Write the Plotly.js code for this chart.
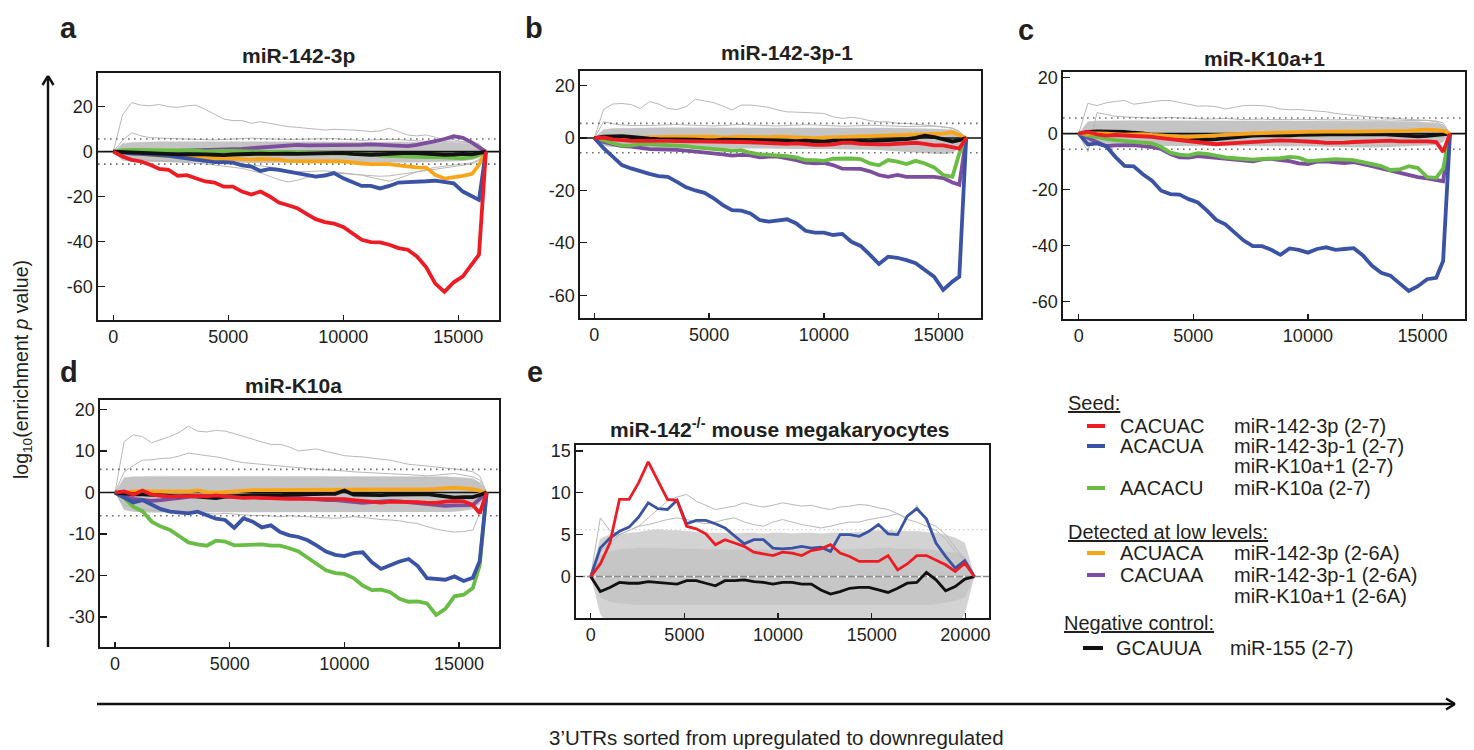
<!DOCTYPE html>
<html><head><meta charset="utf-8">
<script src="https://cdn.plot.ly/plotly-3.0.1.min.js"></script>
<style>html,body{margin:0;padding:0;background:#fff;} #chart{width:1474px;height:750px;}</style>
</head><body><div id="chart"></div>
<script>
// ---------------- DATA ----------------
const X_AD = [0,400,800,1200,1600,2000,2400,2800,3200,3600,4000,4400,4800,5200,5600,6000,6400,6800,7200,7600,8000,8400,8800,9200,9600,10000,10400,10800,11200,11600,12000,12400,12800,13200,13600,14000,14400,14800,15200,15600,15900,16200];
const X_E = [0,512,1024,1536,2048,2560,3072,3584,4096,4608,5120,5632,6144,6656,7168,7680,8192,8704,9216,9728,10240,10752,11264,11776,12288,12800,13312,13824,14336,14848,15360,15872,16384,16896,17408,17920,18432,18944,19456,19968,20480];
const X_TICKS_AD = [0,5000,10000,15000];
const X_TICKS_E = [0,5000,10000,15000,20000];

// panel a: miR-142-3p
const a_red    = [0,-2.2,-3.7,-4.4,-5.9,-7.7,-8.1,-10.8,-10.5,-12.1,-13.3,-13.8,-15.6,-15.6,-17.8,-19.1,-17.8,-20,-22.7,-23.9,-25.2,-27.7,-30.1,-31.4,-32.1,-33.6,-36.3,-39.3,-40.3,-40.4,-41.5,-43,-43.7,-46.7,-51.4,-58.8,-62.5,-58.2,-55.6,-50.4,-45.9,0];
const a_blue   = [0,-0.6,-0.9,-1.0,-1.2,-1.6,-1.9,-2.5,-3.1,-3.7,-4.1,-4.7,-4.7,-4.9,-6.1,-6.7,-8.6,-7.7,-8.1,-8.9,-9.6,-10.5,-11.1,-10.7,-9.6,-11.9,-13.8,-15.3,-15.3,-16.4,-15.3,-13.8,-13.6,-13.6,-13.2,-12.9,-13.5,-14.1,-17.8,-20,-21.5,0];
const a_orange = [0,-0.4,-0.9,-1.2,-1.5,-1.8,-1.9,-2.1,-2.2,-2.7,-3.0,-3.1,-3.3,-3.1,-3.3,-3.6,-3.3,-3.4,-3.6,-4.1,-4.4,-4.3,-4.3,-4.1,-4.3,-4.4,-5.0,-5.3,-5.6,-5.6,-5.6,-6.1,-6.7,-7.0,-7.1,-10.4,-12.0,-11.6,-10.8,-9.9,-5.9,0];
const a_purple = [0,-0.2,-0.3,-0.1,0,0.1,0.1,0.3,0.3,0.4,0.6,0.7,0.7,0.9,1.2,1.5,1.8,2.2,2.8,3.0,3.0,2.8,2.8,2.8,2.7,2.7,2.8,3.0,3.2,3.0,2.4,2.2,2.4,3.0,3.7,4.7,5.6,6.8,6.1,4.0,1.9,0];
const a_green  = [0,0.6,0.7,0.7,0.6,0.3,0.4,0.7,0.6,0.4,0.1,0,0.3,0.3,0.1,-0.1,-0.3,-0.4,-0.3,-0.3,-0.4,-0.4,-0.6,-0.6,-0.6,-0.7,-0.9,-1.0,-1.2,-1.8,-2.0,-2.1,-2.0,-2.2,-2.5,-2.3,-2.6,-3.0,-3.0,-2.5,-1.5,0];
const a_black  = [0,-0.2,-0.3,-0.4,-0.6,-0.8,-1.0,-1.2,-1.1,-1.0,-1.2,-1.4,-1.6,-1.3,-1.1,-1.0,-0.9,-1.0,-0.8,-0.9,-1.0,-0.9,-0.8,-0.6,-0.4,-0.6,-1.0,-1.3,-1.4,-1.2,-0.9,-1.0,-0.6,-0.7,-1.0,-1.2,-1.4,-1.3,-1.0,-1.2,-0.8,0];
const a_bandHi = [0,3.5,4.0,4.2,4.3,4.4,4.4,4.4,4.4,4.3,4.3,4.3,4.3,4.3,4.3,4.3,4.3,4.3,4.3,4.3,4.3,4.3,4.3,4.3,4.3,4.3,4.3,4.3,4.3,4.3,4.3,4.3,4.3,4.3,4.3,4.2,4.2,4.0,3.8,3.5,2.5,0];
const a_bandLo = [0,-4.0,-4.5,-4.6,-4.6,-4.7,-4.7,-4.7,-4.8,-4.8,-4.7,-4.8,-4.9,-5.0,-5.0,-4.9,-5.0,-5.1,-5.0,-5.0,-5.1,-5.0,-5.0,-5.1,-5.0,-5.1,-5.2,-5.2,-5.1,-5.0,-5.0,-5.0,-4.9,-4.9,-4.8,-4.7,-4.6,-4.4,-4.2,-3.8,-2.8,0];
const a_gray1  = [0,16.3,21.8,20.7,20.4,21,20,19.7,20.4,20.7,18.8,16.6,14.5,13.8,13.8,12.6,13.3,12.6,11.9,11.1,10.8,10.4,9.9,9.6,9.9,9.9,9.6,9.3,8.9,9.2,10.4,8.9,7.4,7.0,7.4,6.4,5.2,5.2,4.4,3.7,3.0,0];
const a_gray2  = [0,5,8.4,7,6.2,6,5.8,5.8,5.6,5.5,5.3,5.2,5.4,5.6,5.8,6,5.8,5.6,5.5,5.4,5.5,5.6,5.8,6.0,5.8,5.5,5.2,5.0,5.2,5.4,5.5,5.3,5.0,4.8,4.6,4.5,4.5,4.4,4.3,4.2,3.5,0];
const a_gray3  = [0,-2,-3,-3.5,-4,-4,-4.2,-4.3,-4.5,-4.5,-4.6,-4.8,-5,-5.2,-5.5,-6,-6.3,-6.8,-7.5,-8.5,-9,-8.8,-8.5,-8.6,-9,-9.5,-10,-10.5,-11.5,-12.5,-13.2,-12,-10.5,-9,-8,-7,-6.5,-6,-5.5,-5,-3.5,0];
const a_gray4  = [0,-3,-3.5,-3.8,-4,-4.2,-4.5,-4.6,-4.8,-5,-5.5,-6,-6.5,-7,-7.5,-8.5,-9.5,-11,-12.5,-13.5,-12.8,-11.5,-10.5,-9.8,-9.5,-9.8,-10,-10.2,-10.6,-11,-10.8,-10.2,-9.5,-9,-8.5,-8,-7.2,-6.5,-6,-5.5,-4,0];

// panel b: miR-142-3p-1
const b_red    = [0,0.2,-0.5,-0.9,-1.1,-1.1,-1.0,-1.0,-1.1,-1.2,-1.2,-1.2,-1.3,-1.5,-1.5,-1.3,-1.5,-1.6,-1.8,-1.8,-2.0,-2.2,-2.0,-2.4,-2.6,-2.6,-2.4,-1.8,-1.8,-2.2,-2.4,-2.4,-2.4,-2.2,-2.0,-1.8,-2.2,-2.8,-2.8,-3.6,-4.0,0];
const b_blue   = [0,-3.9,-7.1,-10.3,-11.6,-12.8,-13.7,-14.5,-14.8,-16.7,-18.8,-20,-20.9,-23,-25.6,-27.5,-27.7,-28.8,-31.3,-31.9,-31.6,-31.0,-32.6,-35.4,-36.1,-36.1,-37.0,-36.6,-39.6,-41.2,-44.5,-48.1,-45.3,-45.7,-46.6,-47.8,-50.4,-52.9,-58.0,-54.8,-52.9,0];
const b_orange = [0,0.3,0.3,0,0.1,0.3,0.5,0.6,0.6,0.5,0.5,0.5,0.6,0.5,0.2,0.4,0.5,0.4,0.3,0.3,0.5,0.3,0.2,0.1,0.0,0.2,0.3,0.3,0.4,0.5,0.6,0.8,0.9,1.0,1.2,1.3,1.2,1.5,1.7,2.2,1.0,0];
const b_purple = [0,-1.5,-2.3,-3.1,-3.3,-3.8,-4.2,-4.3,-4.3,-4.5,-4.8,-5.1,-5.5,-5.7,-6.2,-6.7,-6.4,-6.6,-7.4,-7.1,-7.1,-7.8,-8.4,-9.4,-9.7,-9.5,-10.3,-11.7,-11.8,-11.8,-12.7,-14.1,-14.8,-14.1,-14.8,-14.8,-15.1,-14.8,-15.3,-17.0,-17.8,0];
const b_green  = [0,-0.8,-2.0,-2.9,-2.8,-2.3,-2.3,-2.5,-2.7,-2.8,-3.1,-3.6,-3.9,-4.3,-4.8,-4.8,-4.6,-5.6,-6.2,-6.4,-6.4,-6.9,-7.4,-8.4,-8.4,-8.7,-7.9,-7.8,-7.8,-8.0,-9.7,-10.4,-8.4,-9.0,-9.9,-8.7,-9.7,-11.2,-14.1,-14.8,-5.9,0];
const b_black  = [0,0.5,0.6,0.7,0.4,0,-0.2,-0.4,-0.4,-0.6,-0.7,-0.6,-0.8,-0.9,-0.6,-0.6,-0.8,-0.7,-0.8,-0.7,-0.9,-1.0,-1.2,-1.0,-1.1,-1.4,-1.0,-0.9,-0.8,-1.0,-1.2,-1.0,-0.9,-0.6,-0.4,0.1,0.9,0.4,-0.5,-1.3,-0.8,0];
const b_bandHi = [0,3.2,3.6,3.7,3.8,3.8,3.8,3.9,3.9,3.9,3.9,4.0,4.0,4.0,4.0,4.0,4.0,4.0,4.0,4.0,4.0,4.0,4.0,3.9,3.9,3.9,3.9,3.9,3.9,3.8,3.8,3.8,3.8,3.7,3.7,3.6,3.6,3.5,3.4,3.2,2.2,0];
const b_bandLo = [0,-3.0,-3.4,-3.6,-3.7,-3.8,-3.8,-3.8,-3.8,-3.9,-3.9,-3.9,-3.9,-4.0,-4.0,-4.0,-4.0,-4.0,-4.0,-4.0,-4.1,-4.1,-4.1,-4.2,-4.2,-4.2,-4.3,-4.3,-4.4,-4.4,-4.5,-4.6,-4.8,-5.0,-5.2,-5.5,-5.8,-6.0,-6.2,-5.8,-3.5,0];
const b_gray1  = [0,10.9,13,13.2,12.8,11.3,13.9,13,11.3,10.9,12,14.8,14.2,13.5,12.2,10.7,12.6,12.6,12.2,11.7,10.7,10,9.9,9.8,9.7,9.4,8.1,7.5,7.9,7.5,6.6,6.2,6.2,5.6,5.6,5.3,5.0,4.6,4.3,3.7,2.4,0];
const b_gray2  = [0,6.2,5.5,5.0,4.8,4.7,4.8,4.9,5.0,5.2,5.0,4.8,4.7,4.6,4.8,5.0,5.2,5.0,4.8,4.7,4.6,4.8,5.0,5.1,5.0,4.8,4.6,4.5,4.6,4.8,4.9,4.8,4.6,4.5,4.4,4.5,4.6,4.5,4.2,3.8,2.6,0];

// panel c: miR-K10a+1
const c_red    = [0,0.6,-0.3,-0.7,-0.5,-0.6,-0.9,-0.8,-1.2,-1.6,-2.0,-2.2,-2.6,-3.2,-3.6,-3.8,-3.6,-3.4,-3.0,-2.9,-2.6,-2.5,-2.4,-2.5,-2.6,-2.7,-3.0,-3.3,-3.4,-3.2,-3.0,-2.9,-2.8,-2.4,-2.5,-2.8,-2.8,-2.6,-2.8,-3.0,-6.5,0];
const c_blue   = [0,-3.9,-3.5,-4.5,-8.3,-11.5,-11.7,-14.5,-16.8,-20.4,-21.6,-21.8,-23.4,-24.6,-27.5,-30.8,-32.4,-35.5,-38.2,-40.2,-40.2,-41.5,-43.3,-41.0,-41.5,-42.5,-41.2,-40.6,-41.5,-41.2,-40.9,-43.5,-47.2,-49.7,-50.7,-53.5,-56.2,-54.5,-52.0,-51.5,-45.5,0];
const c_orange = [0,0.2,0.1,0.0,-0.3,-0.4,-0.3,-0.2,-0.5,-0.8,-1.0,-1.1,-1.2,-1.0,-0.8,-0.6,-0.3,0.0,0.1,0.1,0.2,0.2,0.2,0.3,0.5,0.6,0.7,0.7,0.8,0.8,0.7,0.7,0.8,0.8,0.9,0.9,1.0,1.2,1.4,1.2,1.0,0];
const c_purple = [0,-1.5,-2.8,-4.5,-4.2,-4.0,-4.1,-4.5,-4.8,-5.5,-7.3,-8.5,-8.6,-8.0,-8.3,-8.7,-9.0,-9.4,-9.8,-9.9,-9.2,-9.0,-9.5,-9.8,-10.6,-10.9,-10.0,-9.9,-10.3,-10.5,-10.2,-10.8,-11.6,-12.4,-13.2,-14.0,-14.8,-15.5,-16.0,-16.5,-17.0,0];
const c_green  = [0,-0.7,-1.3,-1.9,-2.3,-2.7,-3.0,-3.2,-3.5,-4.8,-6.8,-7.5,-7.8,-7.0,-7.2,-8.0,-8.5,-8.8,-9.1,-9.3,-9.0,-8.9,-8.8,-8.3,-8.6,-9.8,-9.6,-9.2,-9.1,-9.3,-9.5,-10.2,-11.0,-11.6,-13.0,-12.8,-11.6,-12.3,-15.5,-15.8,-12.5,0];
const c_black  = [0,0.6,0.8,0.8,0.8,0.6,0.3,0.1,-0.5,-1.0,-1.2,-1.3,-1.6,-1.9,-2.1,-2.0,-1.6,-1.3,-0.9,-0.7,-0.6,-0.6,-0.8,-0.6,-0.4,-0.3,-0.4,-0.3,-0.2,-0.2,-0.3,-0.4,-0.3,-0.2,-0.4,-0.6,-0.9,-1.0,-0.8,-0.6,-0.4,0];
const c_bandHi = [0,4.2,4.5,4.6,4.6,4.6,4.6,4.6,4.6,4.6,4.6,4.6,4.6,4.6,4.6,4.6,4.6,4.6,4.6,4.6,4.6,4.5,4.5,4.5,4.5,4.5,4.5,4.5,4.5,4.5,4.4,4.4,4.4,4.4,4.4,4.3,4.3,4.2,4.0,3.8,2.8,0];
const c_bandLo = [0,-4.0,-4.2,-4.3,-4.3,-4.3,-4.3,-4.4,-4.4,-4.4,-4.4,-4.4,-4.4,-4.4,-4.4,-4.4,-4.4,-4.4,-4.4,-4.4,-4.4,-4.4,-4.5,-4.5,-4.5,-4.6,-4.6,-4.7,-4.8,-4.9,-5.0,-5.0,-5.0,-4.9,-4.8,-4.7,-4.6,-4.5,-4.4,-4.2,-3.0,0];
const c_gray1  = [0,10.8,10.0,11.0,11.5,11.8,10.5,11.0,11.5,11.8,11.8,11.2,10.5,9.8,9.9,9.6,8.8,9.4,10.0,10.1,10.0,9.6,8.8,8.5,8.6,8.3,8.1,7.8,7.2,6.8,6.6,6.2,5.9,5.7,5.5,5.4,5.2,5.0,4.8,4.5,3.8,0];
const c_gray2  = [0,-6.5,7.5,6.8,6.2,6.0,5.8,5.6,5.5,5.6,5.8,5.6,5.4,5.3,5.2,5.3,5.4,5.2,5.0,5.1,5.2,5.0,4.9,5.0,5.1,5.0,4.9,4.8,4.9,5.0,4.9,4.8,4.7,4.8,4.9,4.8,4.7,4.6,4.8,4.2,3.0,0];

// panel d: miR-K10a
const d_red    = [0,0.3,-0.5,0.5,-0.5,-0.8,-1.0,-0.9,-0.8,-0.8,-0.9,-0.7,-0.9,-1.2,-1.3,-1.2,-1.3,-1.5,-1.6,-1.5,-1.5,-1.5,-1.6,-1.6,-1.6,-1.6,-1.8,-2.0,-2.2,-2.4,-2.2,-2.2,-2.1,-2.3,-2.5,-2.5,-2.2,-2.0,-2.1,-3.0,-5.0,0];
const d_blue   = [0,-1.3,-2.4,-1.8,-2.8,-4.0,-4.6,-4.9,-5.0,-4.6,-5.5,-6.3,-6.6,-8.5,-6.2,-7.0,-8.4,-7.9,-9.5,-10.3,-10.7,-11.5,-12.8,-14.2,-15.0,-15.3,-14.6,-14.4,-16.8,-18.4,-17.5,-16.6,-16.0,-17.7,-20.6,-20.7,-21.0,-20.2,-21.3,-20.5,-16.5,0];
const d_orange = [0,0.2,0.3,0.4,0.3,0.3,0.3,0.1,0.3,0.5,0.1,0,0.2,0.3,0.4,0.6,0.6,0.6,0.6,0.6,0.6,0.6,0.6,0.7,0.7,0.7,0.7,0.7,0.7,0.7,0.7,0.7,0.7,0.8,0.8,0.9,1.0,1.2,1.0,0.8,0.4,0];
const d_purple = [0,-1.0,-1.5,-1.8,-2.0,-1.8,-1.5,-1.3,-1.0,-0.8,-0.8,-0.8,-0.9,-0.9,-0.9,-1.0,-1.2,-1.3,-1.4,-1.3,-1.3,-1.5,-1.7,-1.8,-1.8,-2.0,-2.4,-2.5,-2.3,-2.1,-2.0,-2.1,-2.3,-2.6,-2.8,-3.0,-3.2,-3.1,-3.1,-3.0,-1.5,0];
const d_green  = [0,-1.3,-3.4,-4.5,-7.0,-8.2,-9.0,-10.5,-12.0,-12.5,-12.8,-11.6,-11.8,-12.7,-12.6,-12.4,-12.5,-12.8,-12.8,-13.4,-14.2,-15.7,-17.3,-18.7,-19.4,-19.6,-20.6,-22.4,-23.5,-23.4,-24.0,-25.6,-26.3,-26.2,-26.7,-29.5,-28.0,-25.0,-24.6,-23.0,-17.5,0];
const d_black  = [0,-0.3,-0.4,-0.4,-0.6,-0.8,-0.8,-0.9,-0.8,-1.0,-1.2,-1.3,-1.0,-0.8,-0.7,-0.6,-0.6,-0.7,-0.6,-0.5,-0.4,-0.4,-0.4,-0.3,-0.3,0.5,-0.5,-0.6,-0.7,-0.6,-0.5,-0.4,-0.5,-0.4,-0.4,-0.6,-1.0,-1.2,-1.1,-1.1,-0.6,0];
const d_bandHi = [0,3.6,3.8,3.9,3.9,3.9,3.9,3.9,3.9,3.9,3.9,3.9,3.9,3.9,3.9,3.9,3.9,3.9,3.9,3.9,3.9,3.9,3.9,3.9,3.9,3.9,3.9,3.9,3.9,3.9,3.9,3.9,3.9,3.9,3.9,3.8,3.8,3.7,3.6,3.4,2.4,0];
const d_bandLo = [0,-4.2,-4.6,-4.8,-4.8,-4.8,-4.8,-4.8,-4.8,-4.8,-4.8,-4.8,-4.8,-4.8,-4.8,-4.8,-4.8,-4.8,-4.8,-4.8,-4.8,-4.8,-4.8,-4.8,-4.8,-4.8,-4.8,-4.8,-4.8,-4.8,-4.8,-4.8,-4.8,-4.8,-4.8,-4.8,-4.7,-4.6,-4.4,-4.0,-2.8,0];
const d_gray1  = [0,12.3,13.9,13.5,12.0,12.8,13.5,14.5,16.0,14.8,14.6,15.0,14.8,14.2,13.5,12.8,12.2,11.6,11.6,11.0,10.0,10.3,10.5,9.9,9.4,8.9,8.7,8.6,8.3,8.1,7.8,7.3,6.8,6.6,6.4,6.2,6.0,5.7,5.4,5.0,4.0,0];
const d_gray2  = [0,5.0,6.5,7.8,7.9,8.2,8.3,8.8,9.5,9.2,9.0,8.6,8.2,7.6,7.2,7.0,6.8,6.5,6.4,6.2,6.0,5.8,5.6,5.5,5.4,5.2,5.0,4.9,4.8,4.6,4.5,4.4,4.3,4.2,4.0,4.2,4.5,4.6,4.2,3.8,3.0,0];
const d_gray3  = [0,-3,-3.5,-4,-4.2,-4.5,-4.5,-4.6,-4.5,-4.8,-5,-5.2,-5.0,-5.2,-5.4,-5.5,-5.5,-5.6,-5.8,-5.6,-5.7,-5.8,-6.0,-6.0,-6.2,-6.0,-5.8,-6.0,-6.3,-6.5,-6.6,-6.8,-7.2,-7.5,-8.2,-8.8,-9.2,-9.5,-9.4,-9.0,-5.0,0];

// panel e: miR-142-/- mouse megakaryocytes
const e_red    = [0,1.5,4.0,9.2,9.2,11.2,13.7,11.4,9.2,9.1,6.0,5.7,5.1,3.8,4.4,4.0,3.6,2.9,2.7,2.5,2.9,2.8,2.5,3.1,3.3,3.8,2.8,2.4,1.8,1.8,1.8,2.5,0.8,1.5,2.5,2.5,1.9,1.4,0.6,1.6,0];
const e_blue   = [0,3.4,4.6,5.4,5.9,7.1,8.8,8.1,8.0,9.1,6.3,6.7,6.7,6.3,5.8,4.8,3.9,4.4,4.4,3.4,3.3,3.4,3.6,3.4,3.5,3.0,5.0,5.0,4.8,5.4,6.2,5.1,5.0,7.2,8.1,6.9,4.0,2.4,1.0,1.9,0];
const e_black  = [0,-1.8,-1.3,-0.7,-0.8,-0.8,-0.6,-0.7,-0.8,-0.9,-0.5,-0.5,-0.8,-1.1,-0.5,-0.5,-0.4,-0.6,-0.7,-0.9,-0.7,-0.7,-0.9,-0.9,-1.6,-2.1,-1.8,-1.4,-1.3,-1.3,-1.6,-1.9,-1.4,-0.8,-0.7,0.5,-0.4,-1.7,-1.2,-0.3,0];
const e_outerHi= [0,4.5,5.0,5.0,5.2,5.3,5.5,5.6,5.5,5.5,5.4,5.3,5.2,5.2,5.2,5.1,5.2,5.2,5.1,5.2,5.2,5.1,5.2,5.2,5.1,5.2,5.2,5.2,5.3,5.4,5.5,5.5,5.4,5.4,5.4,5.3,5.2,5.0,4.6,4.0,0];
const e_outerLo= [0,-4.5,-6,-6,-6,-6,-6,-6,-6,-6,-6,-6,-6,-6,-6,-6,-6,-6,-6,-6,-6,-6,-6,-6,-6,-6,-6,-6,-6,-6,-6,-6,-6,-6,-6,-6,-6,-6,-6,-4.5,0];
const e_innerHi= [0,2.5,3.0,3.2,3.3,3.4,3.4,3.4,3.4,3.3,3.3,3.3,3.2,3.2,3.2,3.2,3.2,3.2,3.2,3.2,3.2,3.2,3.2,3.2,3.2,3.2,3.2,3.2,3.3,3.3,3.4,3.4,3.3,3.3,3.3,3.2,3.1,3.0,2.8,2.4,0];
const e_innerLo= [0,-2.5,-3.0,-3.2,-3.3,-3.4,-3.4,-3.4,-3.4,-3.4,-3.4,-3.4,-3.4,-3.4,-3.4,-3.4,-3.4,-3.4,-3.4,-3.4,-3.4,-3.4,-3.4,-3.4,-3.4,-3.4,-3.4,-3.4,-3.4,-3.4,-3.4,-3.4,-3.4,-3.4,-3.4,-3.4,-3.3,-3.1,-2.9,-2.5,0];
const e_gray1  = [0,3.0,4.0,5.0,5.5,6.0,7.0,8.0,9.0,9.5,9.8,9.0,8.5,8.0,8.2,8.4,8.8,8.5,8.3,8.5,8.8,8.6,8.4,8.5,8.2,8.0,8.3,8.4,8.6,8.5,8.2,8.0,7.5,7.0,8.5,6.5,6.0,5.0,3.5,2.0,0];
const e_gray2  = [0,7.0,5.5,5.0,5.5,6.0,6.2,6.5,6.8,7.0,6.8,6.5,6.3,6.5,6.8,7.0,6.5,6.2,6.0,6.5,6.8,6.5,6.2,6.0,5.8,6.0,6.3,6.5,6.5,6.8,7.0,7.2,7.5,6.8,6.5,6.0,5.5,4.5,3.0,2.0,0];

const THRESH = 5.6;

// ---------------- RENDER ----------------
const W = 1474, H = 750;
const px = v => v / W, py = v => 1 - v / H;
const FONT = 'Arial, "Liberation Sans", Helvetica, sans-serif';
const C = {red:'#ED1C24', blue:'#3A53A4', green:'#69BD45', orange:'#F9A51A', purple:'#7D4E9E', black:'#111111'};
const BAND = '#c4c4c4', GRAYLINE = '#b8b8b8';
const TICK = 18;

const panels = [
  {k:'',  X:X_AD, xr:[-665,16770], yr:[-75,35],     yt:[-60,-40,-20,0,20], box:[98,499,73,320],
   band:[a_bandLo,a_bandHi], grays:[a_gray1,a_gray2,a_gray3,a_gray4],
   s:{purple:a_purple, orange:a_orange, green:a_green, blue:a_blue, black:a_black, red:a_red}},
  {k:'2', X:X_AD, xr:[-625,16845], yr:[-68.7,25.6], yt:[-60,-40,-20,0,20], box:[580,981,71,318],
   band:[b_bandLo,b_bandHi], grays:[b_gray1,b_gray2],
   s:{purple:b_purple, green:b_green, blue:b_blue, orange:b_orange, black:b_black, red:b_red}},
  {k:'3', X:X_AD, xr:[-685,16855], yr:[-66.2,22],   yt:[-60,-40,-20,0,20], box:[1063,1465,72,319],
   band:[c_bandLo,c_bandHi], grays:[c_gray1,c_gray2],
   s:{purple:c_purple, green:c_green, blue:c_blue, black:c_black, orange:c_orange, red:c_red}},
  {k:'4', X:X_AD, xr:[-653,16740], yr:[-37.2,22.3], yt:[-30,-20,-10,0,10,20], box:[100,499,400,647],
   band:[d_bandLo,d_bandHi], grays:[d_gray1,d_gray2,d_gray3],
   s:{purple:d_purple, orange:d_orange, green:d_green, blue:d_blue, black:d_black, red:d_red}},
];

const traces = [];
const layout = {
  width: W, height: H, margin:{l:0,r:0,t:0,b:0}, paper_bgcolor:'#fff', plot_bgcolor:'rgba(0,0,0,0)',
  showlegend:false, font:{family:FONT, color:'#231f20'}, annotations:[], shapes:[]
};

function axisStyle(extra){
  return Object.assign({showline:true, mirror:true, linecolor:'#1a1a1a', linewidth:1.6,
    ticks:'inside', tickwidth:1.3, tickcolor:'#1a1a1a', showgrid:false, zeroline:false,
    tickfont:{size:TICK, family:FONT, color:'#231f20'}, fixedrange:true}, extra);
}
function line(k, X, Y, color, width, dash){
  traces.push({x:X, y:Y, xaxis:'x'+k, yaxis:'y'+k, type:'scatter', mode:'lines',
    line:{color:color, width:width, dash:dash||'solid'}, hoverinfo:'skip', cliponaxis:true});
}
function band(k, X, lo, hi, color){
  traces.push({x:X, y:lo, xaxis:'x'+k, yaxis:'y'+k, type:'scatter', mode:'lines', line:{width:0, color:color}, hoverinfo:'skip'});
  traces.push({x:X, y:hi, xaxis:'x'+k, yaxis:'y'+k, type:'scatter', mode:'lines', line:{width:0.5, color:color}, fill:'tonexty', fillcolor:color, hoverinfo:'skip'});
}

panels.forEach(p => {
  const [x0,x1,y0,y1] = p.box;
  layout['xaxis'+p.k] = axisStyle({domain:[px(x0),px(x1)], range:p.xr, tickvals:X_TICKS_AD, ticktext:X_TICKS_AD.map(String), ticklen:5, anchor:'y'+p.k});
  layout['yaxis'+p.k] = axisStyle({domain:[py(y1),py(y0)], range:p.yr, tickvals:p.yt, ticktext:p.yt.map(String), ticklen:7, anchor:'x'+p.k});
  band(p.k, p.X, p.band[0], p.band[1], BAND);
  p.grays.forEach(g => line(p.k, p.X, g, GRAYLINE, 1));
  line(p.k, p.xr, [THRESH,THRESH], '#6d6d6d', 1.6, '1.6px,4.4px');
  line(p.k, p.xr, [-THRESH,-THRESH], '#6d6d6d', 1.6, '1.6px,4.4px');
  line(p.k, p.xr, [0,0], '#111', 1.6);
  Object.keys(p.s).forEach(c => line(p.k, p.X, p.s[c], C[c], 3.8));
});

// panel e
(function(){
  const k='5', xr=[-785,21260], yr=[-4.95,15.7], yt=[-5,0,5,10,15];
  layout.xaxis5 = axisStyle({domain:[px(576),px(989)], range:xr, tickvals:X_TICKS_E, ticktext:X_TICKS_E.map(String), ticklen:5, anchor:'y5'});
  layout.yaxis5 = axisStyle({domain:[py(618),py(445)], range:yr, tickvals:yt, ticktext:yt.map(String), ticklen:7, anchor:'x5'});
  band(k, X_E, e_outerLo, e_outerHi, '#d3d3d3');
  band(k, X_E, e_innerLo, e_innerHi, '#c6c6c6');
  line(k, X_E, e_gray1, GRAYLINE, 1);
  line(k, X_E, e_gray2, GRAYLINE, 1);
  line(k, xr, [THRESH,THRESH], '#cfcfcf', 1.2, '1.5px,3px');
  line(k, xr, [0,0], '#8c8c8c', 1.4);
  line(k, xr, [0,0], '#ffffff', 1.8, '2px,7px');
  line(k, X_E, e_black, C.black, 2.8);
  line(k, X_E, e_blue, C.blue, 2.8);
  line(k, X_E, e_red, C.red, 2.8);
})();

// ---------- text ----------
function ann(x, y, text, size, opts){
  layout.annotations.push(Object.assign({xref:'paper', yref:'paper', x:px(x), y:py(y), text:text, showarrow:false,
    xanchor:'center', yanchor:'middle', font:{family:FONT, size:size, color:'#231f20'}}, opts||{}));
}
// panel letters
[['a',68,28],['b',534,28],['c',1026,30],['d',69,372],['e',535,372]].forEach(l => ann(l[1], l[2], '<b>'+l[0]+'</b>', 29));
// panel titles
const TT = 21;
ann(298, 55, '<b>miR-142-3p</b>', TT);
ann(787, 53, '<b>miR-142-3p-1</b>', TT);
ann(1264, 58, '<b>miR-K10a+1</b>', TT);
ann(293, 385, '<b>miR-K10a</b>', TT);
ann(780, 428, '<b>miR-142<sup>-/-</sup> mouse megakaryocytes</b>', TT);
// axis labels
ann(22, 370, 'log<sub>10</sub>(enrichment <i>p</i> value)', 19.5, {textangle:-90});
ann(776, 737, '3’UTRs sorted from upregulated to downregulated', 20.5);

// arrows
function seg(x0,y0,x1,y1,w){
  layout.shapes.push({type:'line', xref:'paper', yref:'paper', x0:px(x0), y0:py(y0), x1:px(x1), y1:py(y1), line:{color:'#111', width:w}});
}
seg(48, 647, 48, 77, 2.4);
seg(42.5, 85, 48, 76, 2.4); seg(53.5, 85, 48, 76, 2.4);
seg(97, 704, 1453, 704, 2.4);
seg(1446, 698.5, 1455, 704, 2.4); seg(1446, 709.5, 1455, 704, 2.4);

// legend
const LG = 20;
function leg(x, y, text){ ann(x, y, text, LG, {xanchor:'left'}); }
function swatch(x0, x1, y, color){
  layout.shapes.push({type:'line', xref:'paper', yref:'paper', x0:px(x0), x1:px(x1), y0:py(y), y1:py(y), line:{color:color, width:4}});
}
leg(1066, 403, '<u>Seed:</u>');
swatch(1087, 1105, 426, C.red);    leg(1118, 426, 'CACUAC'); leg(1232, 426, 'miR-142-3p (2-7)');
swatch(1087, 1105, 446, C.blue);   leg(1118, 446, 'ACACUA'); leg(1232, 446, 'miR-142-3p-1 (2-7)');
leg(1232, 466, 'miR-K10a+1 (2-7)');
swatch(1087, 1105, 488, C.green);  leg(1118, 488, 'AACACU'); leg(1232, 488, 'miR-K10a (2-7)');
leg(1066, 532, '<u>Detected at low levels:</u>');
swatch(1087, 1105, 553, C.orange); leg(1118, 553, 'ACUACA'); leg(1232, 553, 'miR-142-3p (2-6A)');
swatch(1087, 1105, 575, C.purple); leg(1118, 575, 'CACUAA'); leg(1232, 575, 'miR-142-3p-1 (2-6A)');
leg(1232, 596, 'miR-K10a+1 (2-6A)');
leg(1062, 623, '<u>Negative control:</u>');
swatch(1083, 1103, 648, C.black);  leg(1114, 648, 'GCAUUA'); leg(1228, 648, 'miR-155 (2-7)');

Plotly.newPlot('chart', traces, layout, {staticPlot:true, displayModeBar:false});
</script></body></html>
